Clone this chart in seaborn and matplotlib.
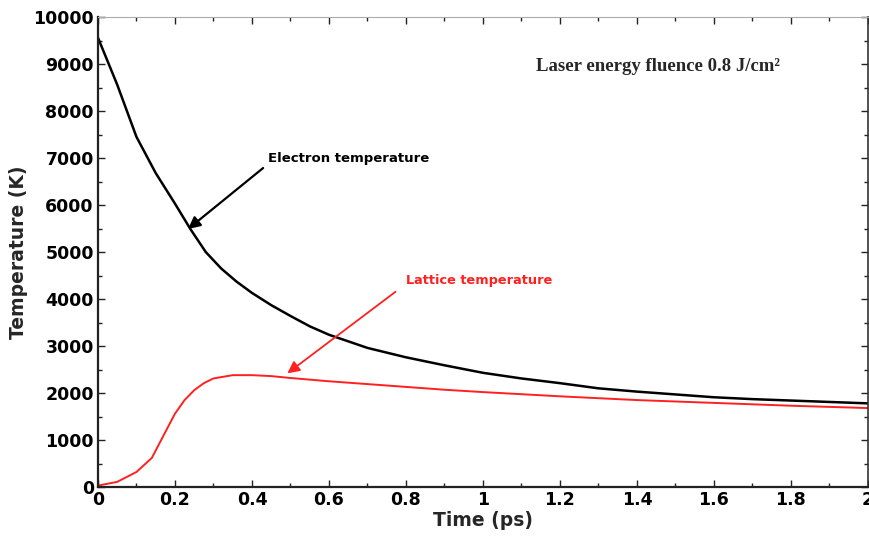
import numpy as np
import pandas as pd
import matplotlib
matplotlib.use("Agg")
import matplotlib.pyplot as plt
import seaborn as sns
from matplotlib.ticker import MultipleLocator, FormatStrFormatter

# ---- data ----
t_electron = [0, 0.05, 0.1, 0.15, 0.2, 0.24, 0.28, 0.32, 0.36, 0.4, 0.45, 0.5, 0.55,
              0.6, 0.7, 0.8, 0.9, 1.0, 1.1, 1.2, 1.3, 1.4, 1.5, 1.6, 1.7, 1.8, 1.9, 2.0]
T_electron = [9560, 8560, 7450, 6680, 6030, 5490, 5000, 4650, 4370, 4130, 3870, 3640,
              3420, 3240, 2960, 2760, 2590, 2430, 2310, 2210, 2100, 2030, 1970, 1910,
              1870, 1840, 1810, 1780]

t_lattice = [0, 0.05, 0.1, 0.14, 0.175, 0.2, 0.225, 0.25, 0.275, 0.3, 0.35, 0.4, 0.45,
             0.5, 0.6, 0.7, 0.8, 0.9, 1.0, 1.2, 1.4, 1.6, 1.8, 2.0]
T_lattice = [30, 110, 320, 620, 1170, 1560, 1850, 2060, 2210, 2310, 2380, 2380, 2360,
             2320, 2250, 2190, 2130, 2070, 2020, 1930, 1850, 1790, 1730, 1680]

x_ticks = [0, 0.2, 0.4, 0.6, 0.8, 1, 1.2, 1.4, 1.6, 1.8, 2]
y_ticks = [0, 1000, 2000, 3000, 4000, 5000, 6000, 7000, 8000, 9000, 10000]

df_e = pd.DataFrame({"t": t_electron, "T": T_electron})
df_l = pd.DataFrame({"t": t_lattice, "T": T_lattice})

sns.set_style("ticks")
plt.rcParams['font.family'] = ['DejaVu Sans']

fig = plt.figure(figsize=(8.7, 5.4), dpi=100)
ax = fig.add_axes([0.1126, 0.0981, 0.885, 0.8704])

sns.lineplot(data=df_e, x="t", y="T", ax=ax, color="black", linewidth=1.8)
sns.lineplot(data=df_l, x="t", y="T", ax=ax, color="#ff2020", linewidth=1.4)

ax.set_xlim(0, 2)
ax.set_ylim(0, 10000)
ax.set_xticks(x_ticks)
ax.set_yticks(y_ticks)
ax.xaxis.set_major_formatter(FormatStrFormatter('%g'))
ax.xaxis.set_minor_locator(MultipleLocator(0.1))
ax.yaxis.set_minor_locator(MultipleLocator(500))
ax.tick_params(which='both', direction='in', top=True, right=True, width=1.0,
               colors='#222222')
ax.tick_params(which='major', length=5, labelsize=12.5, pad=3)
ax.tick_params(which='minor', length=3)
for lab in ax.get_xticklabels() + ax.get_yticklabels():
    lab.set_fontweight('bold')
    lab.set_color('black')

for side in ['left', 'bottom']:
    ax.spines[side].set_linewidth(1.6)
    ax.spines[side].set_color('#222222')
ax.spines['right'].set_linewidth(1.2)
ax.spines['right'].set_color('#333333')
ax.spines['top'].set_linewidth(0.8)
ax.spines['top'].set_color('#aaaaaa')

ax.set_xlabel("Time (ps)", fontsize=13.5, fontweight='bold', labelpad=1)
ax.set_ylabel("Temperature (K)", fontsize=13.5, fontweight='bold', labelpad=4)

ax.text(0.442, 7000, "Electron temperature", fontsize=9.5, fontweight='bold',
        color='black', va='center', ha='left')
ax.annotate("", xy=(0.234, 5489), xytext=(0.429, 6787),
            arrowprops=dict(arrowstyle='-|>', color='black', lw=1.6,
                            mutation_scale=18, shrinkA=0, shrinkB=0))
ax.text(0.80, 4404, "Lattice temperature", fontsize=9.3, fontweight='bold',
        color='#ff2020', va='center', ha='left')
ax.annotate("", xy=(0.492, 2419), xytext=(0.773, 4155),
            arrowprops=dict(arrowstyle='-|>', color='#ff2020', lw=1.3,
                            mutation_scale=18, shrinkA=0, shrinkB=0))

ax.text(1.138, 8957, "Laser energy fluence 0.8 J/cm\u00b2", fontsize=13.5,
        fontweight='bold', family=['Liberation Serif', 'DejaVu Serif'],
        va='center', ha='left')

fig.savefig("out.png", dpi=100)
